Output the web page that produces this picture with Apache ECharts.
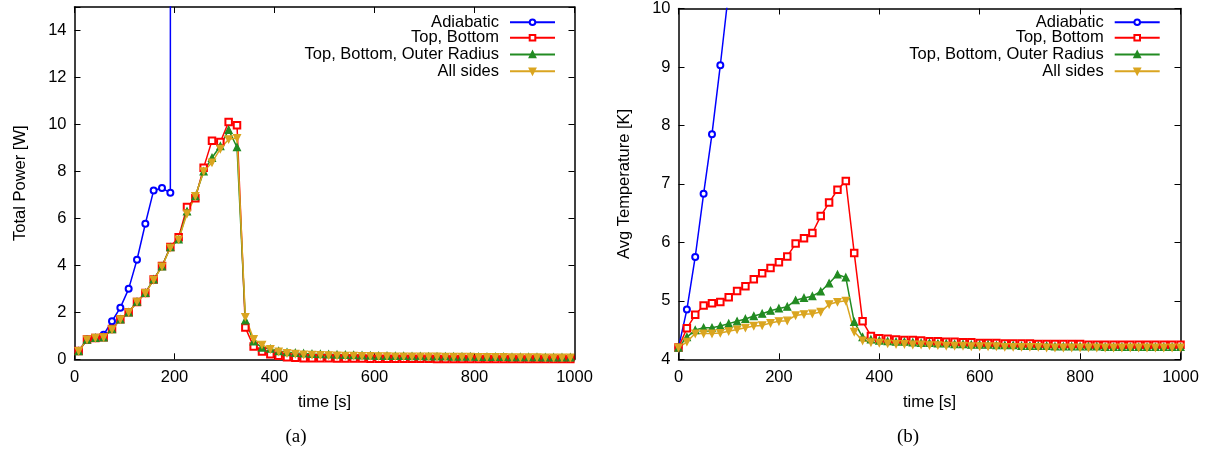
<!DOCTYPE html>
<html>
<head>
<meta charset="utf-8">
<script src="https://cdn.jsdelivr.net/npm/echarts@6/dist/echarts.min.js"></script>
<style>
html,body{margin:0;padding:0;background:#fff;}
#chart{width:1213px;height:456px;}
</style>
</head>
<body>
<div id="chart"></div>
<script>
// ---------- Data ----------
const seriesNames = ["Adiabatic", "Top, Bottom", "Top, Bottom, Outer Radius", "All sides"];

// (a) Total power, sampled at interval midpoints [s]
const timeA = [8.3,25,41.7,58.3,75,91.7,108.3,125,141.7,158.3,175,191.7,208.3,225,241.7,258.3,275,291.7,308.3,325,
  341.7,358.3,375,391.7,408.3,425,441.7,458.3,475,491.7,508.3,525,541.7,558.3,575,591.7,608.3,625,641.7,658.3,
  675,691.7,708.3,725,741.7,758.3,775,791.7,808.3,825,841.7,858.3,875,891.7,908.3,925,941.7,958.3,975,991.7];

const powerAdiabatic = [0.35,0.84,0.91,1.05,1.62,2.20,3.00,4.24,5.77,7.19,7.29,7.09,3000];
const powerTopBottom = [0.35,0.84,0.91,0.94,1.29,1.70,2.00,2.44,2.82,3.40,3.97,4.78,5.20,6.48,6.86,8.16,9.31,9.25,10.10,9.97,
  1.35,0.54,0.33,0.22,0.15,0.09,0.07,0.05,0.05,0.04,0.04,0.03,0.03,0.03,0.03,0.02,0.02,0.02,0.02,0.02,
  0.02,0.02,0.02,0.01,0.01,0.01,0.01,0.01,0.01,0.01,0.01,0.01,0.01,0.01,0.01,0.01,0.01,0.01,0.01,0.01];
const powerTopBottomOuter = [0.35,0.84,0.91,0.93,1.28,1.70,2.00,2.45,2.83,3.40,3.96,4.77,5.10,6.30,6.95,8.00,8.58,9.08,9.77,9.03,
  1.66,0.76,0.50,0.45,0.35,0.30,0.27,0.25,0.23,0.22,0.21,0.20,0.19,0.18,0.17,0.16,0.15,0.15,0.14,0.14,
  0.13,0.13,0.12,0.12,0.12,0.11,0.11,0.11,0.10,0.10,0.10,0.10,0.09,0.09,0.09,0.09,0.08,0.08,0.08,0.08];
const powerAllSides = [0.35,0.84,0.91,0.93,1.27,1.70,2.00,2.45,2.82,3.38,3.95,4.75,5.10,6.20,6.95,8.00,8.38,8.96,9.37,9.42,
  1.80,0.86,0.62,0.43,0.33,0.26,0.23,0.20,0.19,0.18,0.17,0.16,0.15,0.15,0.14,0.14,0.13,0.13,0.12,0.12,
  0.12,0.11,0.11,0.11,0.10,0.10,0.10,0.10,0.09,0.09,0.09,0.09,0.08,0.08,0.08,0.08,0.07,0.07,0.07,0.07];

// (b) Average temperature [K]
const timeB = [0,16.7,33.3,50,66.7,83.3,100,116.7,133.3,150,166.7,183.3,200,216.7,233.3,250,266.7,283.3,300,316.7,
  333.3,350,366.7,383.3,400,416.7,433.3,450,466.7,483.3,500,516.7,533.3,550,566.7,583.3,600,616.7,633.3,650,
  666.7,683.3,700,716.7,733.3,750,766.7,783.3,800,816.7,833.3,850,866.7,883.3,900,916.7,933.3,950,966.7,983.3,1000];

const tempAdiabatic = [4.20,4.85,5.75,6.83,7.85,9.03,10.30];
const tempTopBottom = [4.20,4.53,4.76,4.92,4.96,4.98,5.06,5.17,5.25,5.37,5.47,5.56,5.66,5.76,5.98,6.07,6.16,6.45,6.68,6.90,
  7.05,5.82,4.65,4.40,4.36,4.35,4.34,4.33,4.33,4.32,4.31,4.31,4.30,4.30,4.29,4.29,4.28,4.28,4.28,4.27,
  4.27,4.27,4.27,4.26,4.26,4.26,4.26,4.26,4.26,4.25,4.25,4.25,4.25,4.25,4.25,4.25,4.25,4.25,4.25,4.25,4.25];
const tempTopBottomOuter = [4.20,4.38,4.50,4.54,4.54,4.57,4.61,4.65,4.69,4.74,4.78,4.83,4.87,4.90,5.01,5.05,5.08,5.16,5.30,5.45,
  5.40,4.64,4.38,4.34,4.32,4.31,4.30,4.30,4.29,4.28,4.28,4.27,4.27,4.26,4.26,4.25,4.25,4.25,4.24,4.24,
  4.24,4.23,4.23,4.23,4.23,4.22,4.22,4.22,4.22,4.22,4.22,4.21,4.21,4.21,4.21,4.21,4.21,4.21,4.21,4.21,4.21];
const tempAllSides = [4.20,4.30,4.44,4.44,4.44,4.45,4.48,4.51,4.54,4.57,4.58,4.62,4.65,4.66,4.75,4.77,4.78,4.81,4.94,4.98,
  5.00,4.47,4.32,4.29,4.28,4.27,4.26,4.26,4.25,4.25,4.24,4.24,4.23,4.23,4.23,4.22,4.22,4.22,4.22,4.21,
  4.21,4.21,4.21,4.21,4.20,4.20,4.20,4.20,4.20,4.20,4.20,4.20,4.20,4.20,4.20,4.20,4.20,4.20,4.20,4.20,4.20];

const captions = ["(a)", "(b)"];

// ---------- Styling ----------
const FONT = "Liberation Sans";
const FS = 16.5;
const colors = ["#0000ff", "#ff0000", "#228b22", "#daa520"];
const symbols = ["emptyCircle", "emptyRect", "triangle", "triangle"];
const symbolSizes = [6, 6.5, 7, 7];
const symbolRot = [0, 0, 0, 180];

function zip(t, v) { return v.map((y, i) => [t[i], y]); }

const grids = [
  {left: 74.5, right: 1213 - 574.5, top: 7, bottom: 456 - 359.3},
  {left: 678.5, right: 1213 - 1180.5, top: 6.5, bottom: 456 - 359.3}
];

function xAxisDef(gridIndex, pos, showLabel) {
  return {
    type: "value", gridIndex, position: pos, min: 0, max: 1000, interval: 200,
    name: showLabel ? "time [s]" : "", nameLocation: "middle", nameGap: 35,
    nameTextStyle: {fontFamily: FONT, fontSize: FS, color: "#000"},
    axisLine: {show: true, onZero: false, lineStyle: {color: "#000", width: 1.5}},
    axisTick: {show: true, inside: true, length: 6, lineStyle: {color: "#000", width: 1}},
    axisLabel: {show: showLabel, fontFamily: FONT, fontSize: FS, color: "#000", margin: 10,
      formatter: v => String(v)},
    splitLine: {show: false}
  };
}
function yAxisDef(gridIndex, pos, showLabel, min, max, interval, name) {
  return {
    type: "value", gridIndex, position: pos, min, max, interval,
    name: showLabel ? name : "", nameLocation: "middle", nameGap: 46,
    nameTextStyle: {fontFamily: FONT, fontSize: FS, color: "#000"},
    axisLine: {show: true, onZero: false, lineStyle: {color: "#000", width: 1.5}},
    axisTick: {show: true, inside: true, length: 6, lineStyle: {color: "#000", width: 1}},
    axisLabel: {show: showLabel, fontFamily: FONT, fontSize: FS, color: "#000", margin: 8,
      formatter: v => (v > max - 1e-9 && (max % interval) !== 0) ? "" : String(v)},
    splitLine: {show: false}
  };
}

const powerSets = [powerAdiabatic, powerTopBottom, powerTopBottomOuter, powerAllSides];
const tempSets = [tempAdiabatic, tempTopBottom, tempTopBottomOuter, tempAllSides];

const series = [];
[[timeA, powerSets, 0], [timeB, tempSets, 1]].forEach(([t, sets, g]) => {
  sets.forEach((vals, i) => {
    series.push({
      type: "line", name: seriesNames[i], xAxisIndex: g * 2, yAxisIndex: g * 2,
      data: zip(t, vals), clip: true,
      symbol: symbols[i], symbolSize: symbolSizes[i], symbolRotate: symbolRot[i],
      showAllSymbol: true,
      lineStyle: {color: colors[i], width: 1.5},
      itemStyle: {color: colors[i], borderColor: colors[i], borderWidth: 1.2},
      emphasis: {disabled: true}
    });
  });
});

const rowCenters = [21.7, 37.3, 54, 70.7];
const legendRights = [1213 - 556, 1213 - 1160.7];
const legends = [];
legendRights.forEach(r => {
  seriesNames.forEach((n, i) => {
    legends.push({
      data: [n], right: r, top: rowCenters[i] - 8, orient: "vertical", align: "right",
      padding: 0, itemWidth: 45, itemHeight: 7, selectedMode: false,
      symbolRotate: "inherit",
      textStyle: {fontFamily: FONT, fontSize: FS, color: "#000", lineHeight: 16, padding: [0, 6, 0, 0]}
    });
  });
});

const option = {
  animation: false,
  backgroundColor: "#fff",
  grid: grids,
  xAxis: [xAxisDef(0, "bottom", true), xAxisDef(0, "top", false), xAxisDef(1, "bottom", true), xAxisDef(1, "top", false)],
  yAxis: [
    yAxisDef(0, "left", true, 0, 15, 2, "Total Power [W]"), yAxisDef(0, "right", false, 0, 15, 2, ""),
    yAxisDef(1, "left", true, 4, 10, 1, "Avg Temperature [K]"), yAxisDef(1, "right", false, 4, 10, 1, "")
  ],
  legend: legends,
  series,
  graphic: [
    {type: "text", x: 296, y: 437, style: {text: captions[0], fontFamily: "Liberation Serif", fontSize: 19, fill: "#000", align: "center", verticalAlign: "middle"}},
    {type: "text", x: 908, y: 437, style: {text: captions[1], fontFamily: "Liberation Serif", fontSize: 19, fill: "#000", align: "center", verticalAlign: "middle"}}
  ]
};

const chart = echarts.init(document.getElementById("chart"), null, {renderer: "canvas"});
chart.setOption(option);
</script>
</body>
</html>
